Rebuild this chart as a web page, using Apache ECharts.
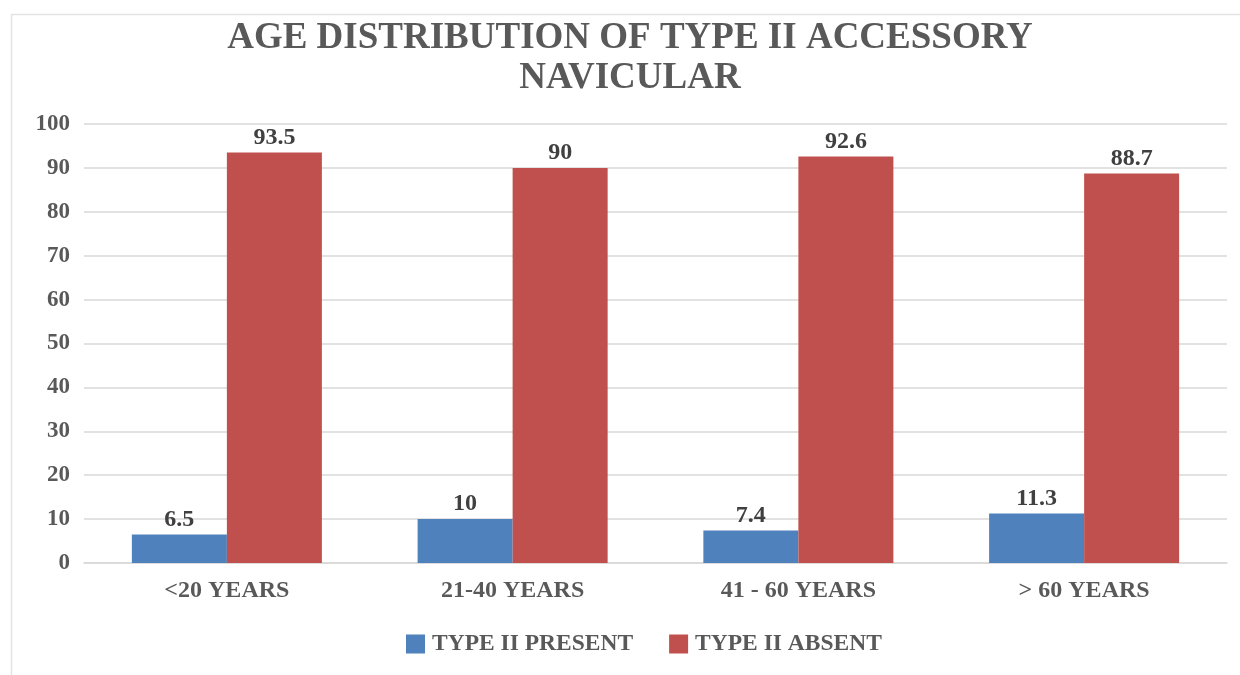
<!DOCTYPE html>
<html>
<head>
<meta charset="utf-8">
<script src="https://cdn.jsdelivr.net/npm/echarts@6/dist/echarts.min.js"></script>
<style>html,body{margin:0;padding:0;background:#fff;}#c{width:1240px;height:675px;}</style>
</head>
<body>
<div id="c"></div>
<script>
const categories = ['<20 YEARS', '21-40 YEARS', '41 - 60 YEARS', '> 60 YEARS'];
const presentValues = [6.5, 10, 7.4, 11.3];
const absentValues = [93.5, 90, 92.6, 88.7];
const seriesNames = ['TYPE II PRESENT', 'TYPE II ABSENT'];
const titleText = 'AGE DISTRIBUTION OF TYPE II ACCESSORY\nNAVICULAR';

const FONT = '"Liberation Serif", "Times New Roman", serif';
const chart = echarts.init(document.getElementById('c'));
const labelStyle = {
  show: true, position: 'top', distance: 3,
  fontFamily: FONT, fontWeight: 'bold', fontSize: 24, color: '#404040'
};
chart.setOption({
  animation: false,
  backgroundColor: '#fff',
  graphic: [{
    type: 'rect', left: 9, top: 12,
    shape: { width: 1260, height: 700 },
    style: { fill: 'none', stroke: '#e3e3e3', lineWidth: 1.5 },
    silent: true, z: -1
  }],
  title: {
    text: titleText, left: 625, top: 13, textAlign: 'center',
    padding: 5,
    textStyle: { fontFamily: FONT, fontWeight: 'bold', fontSize: 37, color: '#595959', lineHeight: 40 }
  },
  legend: {
    bottom: 14, left: 401,
    itemWidth: 19, itemHeight: 19, itemGap: 36,
    icon: 'rect',
    textStyle: { fontFamily: FONT, fontWeight: 'bold', fontSize: 23.5, color: '#595959', padding: [0, 0, 0, 2] },
    data: seriesNames
  },
  grid: { left: 84, right: 13, top: 124, bottom: 112, containLabel: false },
  xAxis: {
    type: 'category', data: categories,
    axisLine: { show: true, lineStyle: { color: '#d9d9d9', width: 1.5 } },
    axisTick: { show: false },
    axisLabel: { fontFamily: FONT, fontWeight: 'bold', fontSize: 24, color: '#595959', margin: 16 }
  },
  yAxis: {
    type: 'value', min: 0, max: 100, interval: 10,
    axisLine: { show: false }, axisTick: { show: false },
    splitLine: { lineStyle: { color: '#d9d9d9', width: 1.5 } },
    axisLabel: { fontFamily: FONT, fontWeight: 'bold', fontSize: 23, color: '#595959', margin: 14 }
  },
  series: [
    { name: seriesNames[0], type: 'bar', data: presentValues, barGap: '0%', barCategoryGap: '33.5%',
      itemStyle: { color: '#4F81BD' }, label: labelStyle },
    { name: seriesNames[1], type: 'bar', data: absentValues, barGap: '0%', barCategoryGap: '33.5%',
      itemStyle: { color: '#C0504D' }, label: labelStyle }
  ]
});
</script>
</body>
</html>
